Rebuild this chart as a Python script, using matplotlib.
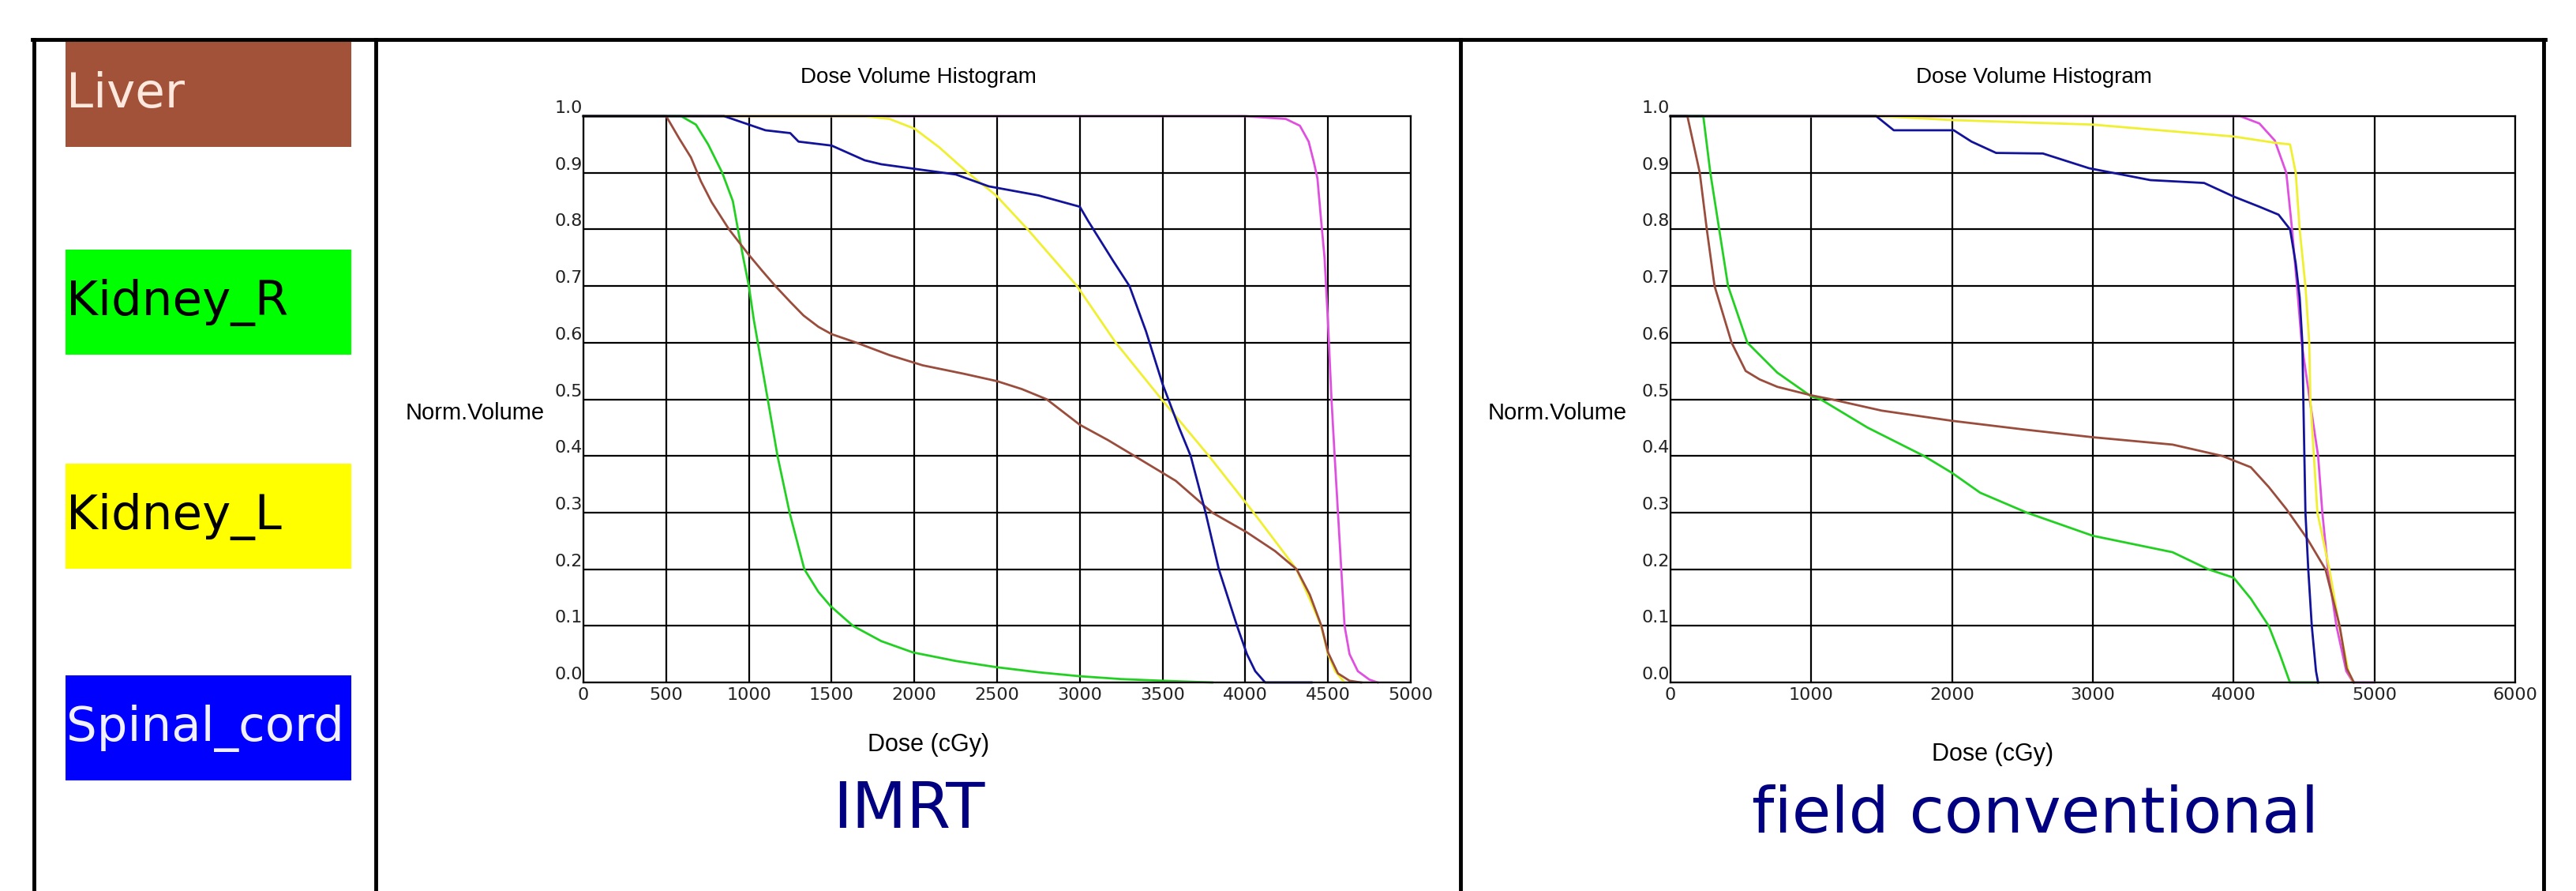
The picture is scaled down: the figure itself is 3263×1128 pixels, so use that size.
import matplotlib
matplotlib.use('Agg')
import matplotlib.pyplot as plt
from matplotlib.lines import Line2D
from matplotlib.patches import Rectangle

# ---- legend column ----
organs = ['Liver', 'Kidney_R', 'Kidney_L', 'Spinal_cord']
box_colors = ['#a3523a', '#00ff00', '#ffff00', '#0000ff']
box_text_colors = ['#ffe9df', '#000000', '#000000', '#f0f0ff']

# curve colours in the DVH plots
line_colors = {'PTV': '#e050e0', 'Kidney_L': '#f0f030', 'Kidney_R': '#22d022',
               'Liver': '#9a4d3c', 'Spinal_cord': '#12129a'}

# ---- IMRT plan (dose cGy, normalised volume) ----
imrt_liver_dose = [0, 500, 580, 650, 710, 775, 880, 1000, 1080, 1160, 1250, 1330, 1420, 1500, 1650, 1850,
                   2050, 2300, 2500, 2650, 2800, 3000, 3170, 3330, 3580, 3800, 4010, 4180, 4310, 4390,
                   4460, 4500, 4560, 4630, 4700]
imrt_liver_vol = [1.0, 1.0, 0.96, 0.927, 0.885, 0.848, 0.80, 0.755, 0.727, 0.70, 0.672, 0.648, 0.628, 0.615,
                  0.60, 0.578, 0.56, 0.545, 0.532, 0.518, 0.50, 0.455, 0.428, 0.40, 0.356, 0.30, 0.265,
                  0.232, 0.20, 0.155, 0.10, 0.053, 0.016, 0.003, 0.0]
imrt_kidr_dose = [0, 590, 680, 754, 839, 903, 934, 966, 1000, 1030, 1072, 1114, 1173, 1246, 1335, 1420,
                  1493, 1629, 1800, 1992, 2250, 2496, 2750, 3000, 3250, 3500, 3800]
imrt_kidr_vol = [1.0, 1.0, 0.985, 0.95, 0.9, 0.85, 0.8, 0.75, 0.7, 0.64, 0.57, 0.5, 0.4, 0.3, 0.2, 0.16,
                 0.135, 0.1, 0.073, 0.053, 0.038, 0.027, 0.018, 0.011, 0.006, 0.003, 0.0]
imrt_kidl_dose = [0, 1700, 1850, 2000, 2150, 2323, 2494, 2685, 2983, 3217, 3494, 3780, 4050, 4309,
                  4400, 4458, 4500, 4543, 4600]
imrt_kidl_vol = [1.0, 1.0, 0.995, 0.978, 0.945, 0.9, 0.86, 0.8, 0.7, 0.6, 0.5, 0.4, 0.3, 0.2,
                 0.14, 0.1, 0.05, 0.02, 0.0]
imrt_cord_dose = [0, 850, 950, 1100, 1250, 1300, 1500, 1700, 1800, 2000, 2250, 2450, 2750, 2900, 3000,
                  3050, 3200, 3300, 3400, 3500, 3600, 3670, 3760, 3840, 3950, 4010, 4060, 4120, 4400]
imrt_cord_vol = [1.0, 1.0, 0.99, 0.975, 0.97, 0.955, 0.948, 0.922, 0.915, 0.907, 0.897, 0.876, 0.86, 0.848, 0.84,
                 0.815, 0.745, 0.70, 0.62, 0.527, 0.45, 0.4, 0.3, 0.2, 0.1, 0.05, 0.02, 0.0, 0.0]
imrt_ptv_dose = [0, 4000, 4245, 4330, 4383, 4415, 4436, 4457, 4479, 4500, 4521, 4540, 4560, 4580,
                 4600, 4630, 4680, 4750, 4800]
imrt_ptv_vol = [1.0, 1.0, 0.995, 0.983, 0.955, 0.918, 0.89, 0.82, 0.75, 0.635, 0.5, 0.4, 0.3, 0.2,
                0.1, 0.05, 0.02, 0.005, 0.0]

# ---- conventional field plan ----
conv_liver_dose = [0, 120, 208, 258, 313, 434, 534, 634, 759, 1000, 1142, 1500, 2000, 2500, 3000,
                   3566, 3919, 4122, 4250, 4375, 4525, 4652, 4753, 4803, 4854]
conv_liver_vol = [1.0, 1.0, 0.9, 0.8, 0.7, 0.6, 0.55, 0.535, 0.522, 0.507, 0.5, 0.48, 0.462, 0.447, 0.433,
                  0.42, 0.4, 0.38, 0.345, 0.306, 0.253, 0.2, 0.1, 0.025, 0.0]
conv_kidr_dose = [0, 233, 283, 346, 409, 546, 759, 1000, 1066, 1400, 1800, 2000, 2200, 2530, 3000,
                  3566, 3818, 4000, 4122, 4249, 4325, 4400, 4600]
conv_kidr_vol = [1.0, 1.0, 0.9, 0.8, 0.7, 0.6, 0.547, 0.505, 0.5, 0.45, 0.4, 0.37, 0.335, 0.3, 0.259,
                 0.23, 0.2, 0.185, 0.148, 0.1, 0.052, 0.0, 0.0]
conv_kidl_dose = [0, 1500, 2000, 3000, 4000, 4292, 4401, 4441, 4469, 4510, 4537, 4545, 4570, 4595,
                  4680, 4750, 4815, 4850]
conv_kidl_vol = [1.0, 1.0, 0.993, 0.985, 0.964, 0.953, 0.95, 0.9, 0.8, 0.7, 0.6, 0.5, 0.4, 0.3,
                 0.2, 0.1, 0.02, 0.0]
conv_cord_dose = [0, 1461, 1586, 2012, 2138, 2313, 2645, 2973, 3409, 3790, 4000, 4183, 4319, 4401,
                  4441, 4469, 4488, 4495, 4510, 4530, 4555, 4585, 4600]
conv_cord_vol = [1.0, 1.0, 0.975, 0.975, 0.955, 0.935, 0.934, 0.908, 0.887, 0.882, 0.858, 0.84, 0.826, 0.8,
                 0.74, 0.68, 0.6, 0.5, 0.3, 0.2, 0.1, 0.02, 0.0]
conv_ptv_dose = [0, 4046, 4183, 4292, 4374, 4415, 4450, 4483, 4540, 4600, 4630, 4670, 4730, 4800,
                 4850, 5000]
conv_ptv_vol = [1.0, 1.0, 0.987, 0.957, 0.9, 0.8, 0.7, 0.6, 0.5, 0.4, 0.3, 0.2, 0.1, 0.02,
                0.0, 0.0]

yticks = [i / 10 for i in range(11)]
imrt_xticks = list(range(0, 5001, 500))
conv_xticks = list(range(0, 6001, 1000))

W, H = 3263, 1128
fig = plt.figure(figsize=(W / 100, H / 100), dpi=100)
fig.patch.set_facecolor('white')


def fx(px):
    return px / W


def fy(py):
    return 1 - py / H


# table frame
for x in [43, 476, 1850, 3222]:
    fig.add_artist(Line2D([fx(x), fx(x)], [fy(50), 0], transform=fig.transFigure,
                          color='black', lw=3.5))
fig.add_artist(Line2D([fx(41), fx(3224)], [fy(50), fy(50)], transform=fig.transFigure,
                      color='black', lw=3.5))

# legend boxes
box_tops = [53, 316, 587, 855]
box_h = 133
for name, top, bc, tc in zip(organs, box_tops, box_colors, box_text_colors):
    fig.add_artist(Rectangle((fx(83), fy(top + box_h)), fx(445) - fx(83), box_h / H,
                             transform=fig.transFigure, facecolor=bc, edgecolor='none'))
    fig.text(fx(84), fy(top + box_h / 2), name, ha='left', va='center', fontsize=44,
             color=tc, family='DejaVu Sans')

sans = 'Liberation Sans'


def dvh_panel(rect, xticks, xmax, curves, title_xy, ylab_xy, xlab_xy, caption, cap_xy):
    ax = fig.add_axes(rect)
    for dose, vol, key in curves:
        ax.plot(dose, vol, color=line_colors[key], lw=2.0, clip_on=False, solid_joinstyle='round')
    ax.set_xlim(0, xmax)
    ax.set_ylim(0, 1)
    ax.set_xticks(xticks)
    ax.set_xticklabels([str(t) for t in xticks])
    ax.set_yticks(yticks)
    ax.set_yticklabels(['%.1f' % t for t in yticks])
    ax.grid(True, color='black', lw=1.6)
    ax.set_axisbelow(True)
    ax.tick_params(length=0, labelsize=16, labelcolor='#222222')
    ax.tick_params(axis='y', pad=1)
    ax.tick_params(axis='x', pad=4)
    for lbl in ax.get_yticklabels():
        lbl.set_va('bottom')
    for s in ax.spines.values():
        s.set_linewidth(1.6)
        s.set_color('black')
    fig.text(fx(title_xy[0]), fy(title_xy[1]), 'Dose Volume Histogram', ha='center', va='center',
             fontsize=20, family=sans)
    fig.text(fx(ylab_xy[0]), fy(ylab_xy[1]), 'Norm.Volume', ha='left', va='center',
             fontsize=21, family=sans)
    fig.text(fx(xlab_xy[0]), fy(xlab_xy[1]), 'Dose (cGy)', ha='center', va='center',
             fontsize=22, family=sans)
    fig.text(fx(cap_xy[0]), fy(cap_xy[1]), caption, ha='center', va='center',
             fontsize=58, color='#000080', family='DejaVu Sans')
    return ax


imrt_curves = [(imrt_ptv_dose, imrt_ptv_vol, 'PTV'),
               (imrt_kidl_dose, imrt_kidl_vol, 'Kidney_L'),
               (imrt_kidr_dose, imrt_kidr_vol, 'Kidney_R'),
               (imrt_liver_dose, imrt_liver_vol, 'Liver'),
               (imrt_cord_dose, imrt_cord_vol, 'Spinal_cord')]
conv_curves = [(conv_ptv_dose, conv_ptv_vol, 'PTV'),
               (conv_kidl_dose, conv_kidl_vol, 'Kidney_L'),
               (conv_kidr_dose, conv_kidr_vol, 'Kidney_R'),
               (conv_liver_dose, conv_liver_vol, 'Liver'),
               (conv_cord_dose, conv_cord_vol, 'Spinal_cord')]

ax_top, ax_bot = 147, 864
dvh_panel([fx(739), fy(ax_bot), fx(1787) - fx(739), (ax_bot - ax_top) / H],
          imrt_xticks, 5000, imrt_curves,
          (1163, 98), (514, 523), (1176, 943), 'IMRT', (1151, 1026))
dvh_panel([fx(2116), fy(ax_bot), fx(3186) - fx(2116), (ax_bot - ax_top) / H],
          conv_xticks, 6000, conv_curves,
          (2576, 98), (1885, 523), (2524, 955), 'field conventional', (2578, 1032))

fig.savefig('out.png', dpi=100, facecolor='white')
